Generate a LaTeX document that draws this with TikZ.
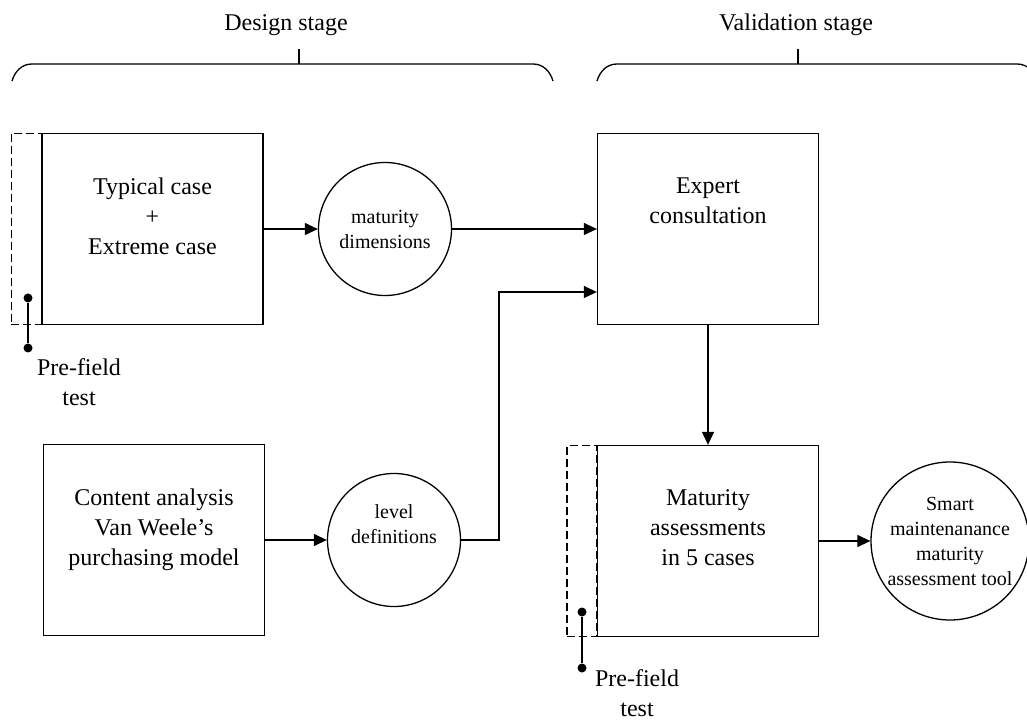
\documentclass[tikz,border=0pt]{standalone}
\usepackage{fontspec}
\setmainfont{Liberation Serif}
\usetikzlibrary{arrows.meta, positioning, calc}

\begin{document}
\begin{tikzpicture}[x=0.5pt, y=-0.5pt, line width=0.65pt,
  stagebox/.style={draw, rectangle, minimum width=110.5pt, minimum height=95.5pt, inner sep=0pt},
  boxtext/.style={align=center, inner sep=0pt, font=\fontsize{12pt}{15pt}\selectfont},
  result/.style={draw, circle, inner sep=0pt, align=center, font=\fontsize{10pt}{12.5pt}\selectfont},
  prebox/.style={draw, dash pattern=on 4pt off 2pt, minimum width=15pt, minimum height=95.5pt, inner sep=0pt, outer sep=0pt},
  flagdot/.style={circle, fill, inner sep=0pt, minimum size=4.5pt},
  flow/.style={-{Triangle[length=6.5pt, width=6pt]}}]

  \useasboundingbox (0,0) rectangle (1027,721);

  % Stage headings
  \node[boxtext] (design) at (286,25) {Design stage};
  \node[boxtext] (validation) at (796,25) {Validation stage};
  \draw (12,81) .. controls (15,71) and (22,64) .. (32,64) -- (533,64) .. controls (543,64) and (550,71) .. (553,81);
  \draw (299,49) -- (299,64);
  \draw (597,81) .. controls (600,71) and (607,64) .. (617,64) -- (1017,64) .. controls (1027,64) and (1034,71) .. (1037,81);
  \draw (798,49) -- (798,64);

  % Design stage
  \node[stagebox] (typical) at (152.5,229) {};
  \node[boxtext, below=22pt of typical.north] (typicaltxt) {Typical case\\+\\Extreme case};
  \node[prebox, left=0pt of typical] (typicalpre) {};
  \node[flagdot] (typdot1) at (28,298) {};
  \node[flagdot] (typdot2) at (28,348) {};
  \draw (typdot1) -- (typdot2);
  \node[boxtext] (typpf) at (79,382) {Pre-field\\test};

  \node[result, minimum size=66.5pt] (matdim) at (385,229) {maturity\\dimensions};

  \node[stagebox] (content) at (154,540) {};
  \node[boxtext, below=22pt of content.north] (contenttxt) {Content analysis\\Van Weele's\\purchasing model};

  \node[result, minimum size=66.5pt] (level) at (394,540) {};
  \node[boxtext, font=\fontsize{10pt}{12.5pt}\selectfont] (leveltxt) at ([yshift=8pt]level.center) {level\\definitions};

  % Validation stage
  \node[stagebox] (expert) at (708,229) {};
  \node[boxtext, below=22pt of expert.north] (experttxt) {Expert\\consultation};

  \node[stagebox] (maturity) at (708,541) {};
  \node[boxtext, below=22pt of maturity.north] (maturitytxt) {Maturity\\assessments\\in 5 cases};
  \node[prebox, left=0pt of maturity] (maturitypre) {};
  \node[flagdot] (matdot1) at (582,612) {};
  \node[flagdot] (matdot2) at (582,668) {};
  \draw (matdot1) -- (matdot2);
  \node[boxtext] (matpf) at (637,693) {Pre-field\\test};

  \node[result, minimum size=79pt] (smart) at (950,541) {Smart\\maintenanance\\maturity\\assessment tool};

  % Flows
  \coordinate (lvbend) at (499,292);
  \draw[flow] (typical) -- (matdim);
  \draw[flow] (matdim) -- (expert);
  \draw[flow] (content) -- (level);
  \draw[flow] (level) -| (lvbend) -- (lvbend -| expert.west);
  \draw[flow] (expert) -- (maturity);
  \draw[flow] (maturity) -- (smart);
\end{tikzpicture}
\end{document}
